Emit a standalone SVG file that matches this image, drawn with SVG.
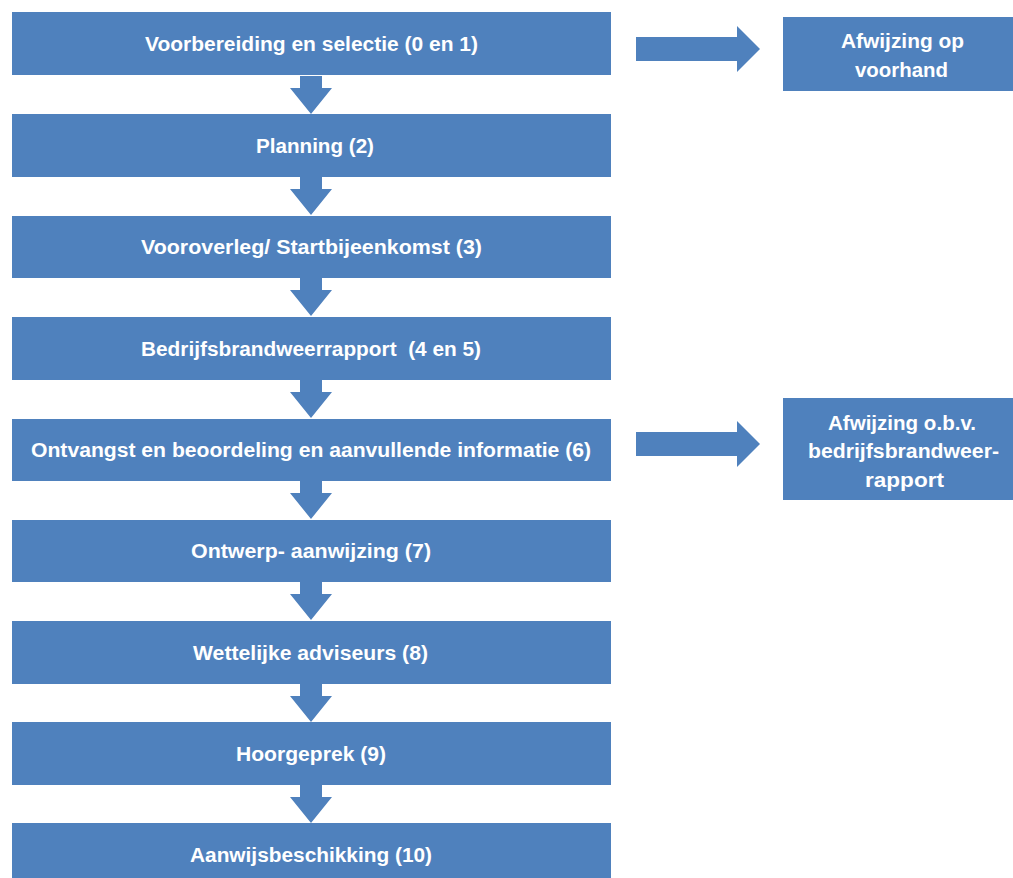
<svg xmlns="http://www.w3.org/2000/svg" width="1013" height="878" viewBox="0 0 1013 878">
<style>
.b{fill:#4F81BD}
.t{fill:#fff;font-family:"Liberation Sans",Arial,sans-serif;font-weight:bold;font-size:20px;text-anchor:middle}
</style>
<defs>
<path id="da" d="M300 0H322V12H332L311 38L290 12H300Z" class="b"/>
<path id="ra" d="M636 0H737V-11L760 12L737 35V24H636Z" class="b"/>
</defs>
<rect width="1013" height="878" fill="#fff"/>
<g id="n1"><rect class="b" x="12" y="12" width="599" height="63"/><text class="t" x="311.5" y="51" textLength="333" lengthAdjust="spacingAndGlyphs">Voorbereiding en selectie (0 en 1)</text></g>
<g id="n2"><rect class="b" x="12" y="114" width="599" height="63"/><text class="t" x="315" y="152.5" textLength="118" lengthAdjust="spacingAndGlyphs">Planning (2)</text></g>
<g id="n3"><rect class="b" x="12" y="216" width="599" height="62"/><text class="t" x="311.5" y="254" textLength="341" lengthAdjust="spacingAndGlyphs">Vooroverleg/ Startbijeenkomst (3)</text></g>
<g id="n4"><rect class="b" x="12" y="317" width="599" height="63"/><text class="t" x="311" y="355.5" textLength="340" lengthAdjust="spacingAndGlyphs" xml:space="preserve">Bedrijfsbrandweerrapport  (4 en 5)</text></g>
<g id="n5"><rect class="b" x="12" y="419" width="599" height="62"/><text class="t" x="311" y="457" textLength="560" lengthAdjust="spacingAndGlyphs">Ontvangst en beoordeling en aanvullende informatie (6)</text></g>
<g id="n6"><rect class="b" x="12" y="520" width="599" height="62"/><text class="t" x="311" y="558" textLength="240" lengthAdjust="spacingAndGlyphs">Ontwerp- aanwijzing (7)</text></g>
<g id="n7"><rect class="b" x="12" y="621" width="599" height="63"/><text class="t" x="310.5" y="659.5" textLength="235" lengthAdjust="spacingAndGlyphs">Wettelijke adviseurs (8)</text></g>
<g id="n8"><rect class="b" x="12" y="722" width="599" height="63"/><text class="t" x="311" y="760.5" textLength="150" lengthAdjust="spacingAndGlyphs">Hoorgeprek (9)</text></g>
<g id="n9"><rect class="b" x="12" y="823" width="599" height="55"/><text class="t" x="311" y="861.5" textLength="242" lengthAdjust="spacingAndGlyphs">Aanwijsbeschikking (10)</text></g>
<g id="r1"><rect class="b" x="783" y="17" width="230" height="74"/><text class="t" x="902.5" y="47.5" textLength="123" lengthAdjust="spacingAndGlyphs">Afwijzing op</text><text class="t" x="901.5" y="76.5" textLength="93" lengthAdjust="spacingAndGlyphs">voorhand</text></g>
<g id="r2"><rect class="b" x="783" y="398" width="230" height="102"/><text class="t" x="902" y="429.5" textLength="148" lengthAdjust="spacingAndGlyphs">Afwijzing o.b.v.</text><text class="t" x="903.5" y="458" textLength="191" lengthAdjust="spacingAndGlyphs">bedrijfsbrandweer-</text><text class="t" x="904.5" y="486.5" textLength="79" lengthAdjust="spacingAndGlyphs">rapport</text></g>
<g id="connectors">
<use href="#da" y="76"/>
<use href="#da" y="177"/>
<use href="#da" y="278"/>
<use href="#da" y="380"/>
<use href="#da" y="481"/>
<use href="#da" y="582"/>
<use href="#da" y="684"/>
<use href="#da" y="785"/>
<use href="#ra" y="37"/>
<use href="#ra" y="432"/>
</g>
</svg>
